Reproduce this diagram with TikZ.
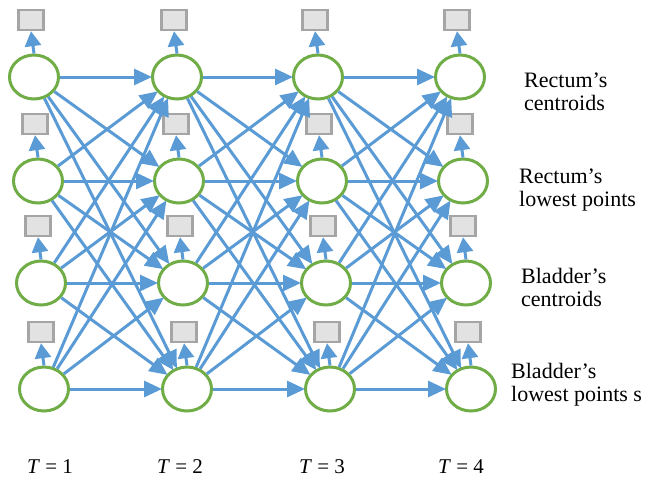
\documentclass[tikz,border=0pt]{standalone}
\usepackage{fontspec}
\setmainfont{Liberation Serif}
\usetikzlibrary{arrows.meta,shapes.geometric}
\definecolor{linkblue}{HTML}{5B9BD5}
\definecolor{stategreen}{HTML}{70AD47}
\definecolor{obsedge}{HTML}{A5A5A5}
\definecolor{obsfill}{HTML}{E2E2E2}
\tikzset{
  bigtip/.tip={Triangle[length=18pt,width=16pt]},
  uptip/.tip={Triangle[length=15pt,width=16pt]}
}
\begin{document}
\begin{tikzpicture}[x=1pt,y=-1pt,
  state/.style={ellipse,draw=stategreen,line width=3pt,fill=white,
    minimum width=49pt,minimum height=44pt,inner sep=0pt},
  obs/.style={rectangle,draw=obsedge,line width=2.4pt,fill=obsfill,
    minimum width=25pt,minimum height=20pt,inner sep=0pt},
  link/.style={draw=linkblue,line width=3pt,-bigtip,shorten >=-1pt},
  emit/.style={draw=linkblue,line width=3pt,-uptip},
  lbl/.style={font=\fontsize{22}{23}\selectfont,align=left,anchor=west,inner sep=0pt},
  tlbl/.style={font=\fontsize{21}{23}\selectfont,inner sep=0pt}]
\useasboundingbox (0,0) rectangle (645,480);

% hidden states: columns T=1..4, rows 1..4
\foreach \c/\xa/\xb/\xc/\xd in {1/34/38/41/44, 2/177/179/183/187, 3/318/322/326/330, 4/460/463/466/471}{
  \node[state] (s\c1) at (\xa,77) {};
  \node[state] (s\c2) at (\xb,181) {};
  \node[state] (s\c3) at (\xc,283) {};
  \node[state] (s\c4) at (\xd,389) {};
}

% observations above every state
\foreach \c in {1,...,4}{
  \foreach \r in {1,...,4}{
    \node[obs] (o\c\r) at ([xshift=-3pt,yshift=57pt]s\c\r.center) {};
    \draw[emit] (s\c\r.north) -- (o\c\r.south);
  }
}

% transitions between consecutive time steps
\foreach \c/\n in {1/2,2/3,3/4}{
  \foreach \i in {1,...,4}{
    \foreach \j in {1,...,4}{
      \draw[link] (s\c\i) -- (s\n\j);
    }
  }
}

% row labels
\node[lbl] (l1) at (524,92) {Rectum’s\\centroids};
\node[lbl] (l2) at (519,190) {Rectum’s\\lowest points};
\node[lbl] (l3) at (521,287) {Bladder’s\\centroids};
\node[lbl] (l4) at (511,385) {Bladder’s\\lowest points s};

% time labels
\node[tlbl] (t1) at (50,467) {\textit{T} = 1};
\node[tlbl] (t2) at (180,467) {\textit{T} = 2};
\node[tlbl] (t3) at (322,467) {\textit{T} = 3};
\node[tlbl] (t4) at (461,467) {\textit{T} = 4};
\end{tikzpicture}
\end{document}
